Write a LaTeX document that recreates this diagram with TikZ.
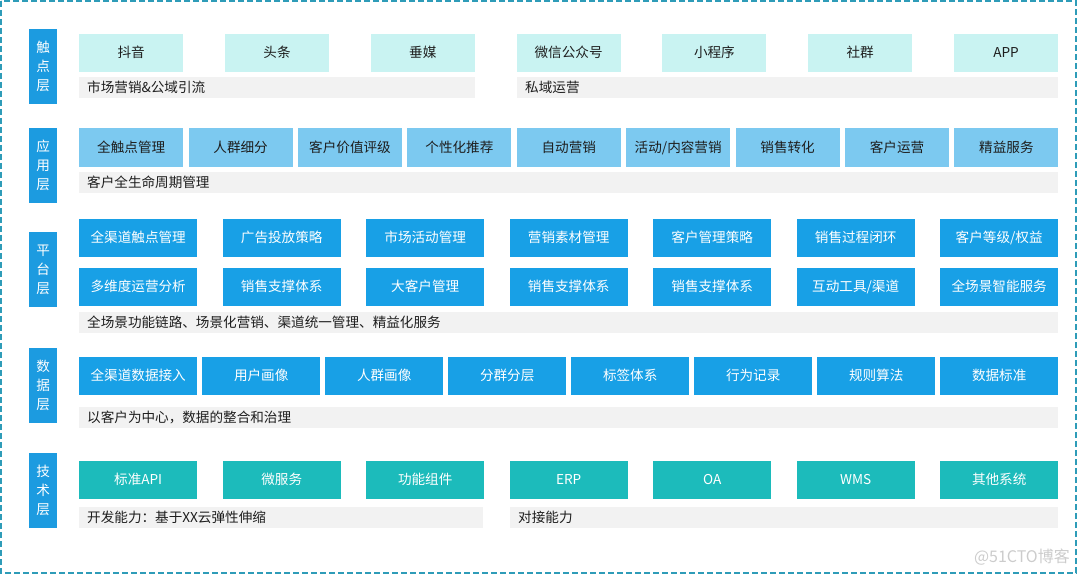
\documentclass[tikz,border=0pt]{standalone}
\usepackage{fontspec}
\setmainfont{Noto Sans CJK SC}
\usetikzlibrary{calc}

\definecolor{labelblue}{RGB}{28,155,224}
\definecolor{touchcyan}{RGB}{201,243,242}
\definecolor{applight}{RGB}{124,201,240}
\definecolor{platblue}{RGB}{24,160,230}
\definecolor{techteal}{RGB}{28,187,187}
\definecolor{bargray}{RGB}{242,242,242}
\definecolor{framecol}{RGB}{46,156,184}
\definecolor{inkdark}{RGB}{30,30,30}

\tikzset{
  txt/.style={font=\fontsize{13.6}{19}\selectfont},
  cell/.style={txt, anchor=north west, inner sep=0pt, text height=11.5pt, text depth=2pt},
  touchbox/.style={cell, fill=touchcyan, text=inkdark, minimum width=104pt, minimum height=38pt},
  appbox/.style={cell, fill=applight, text=inkdark, minimum width=104pt, minimum height=39pt},
  platbox/.style={cell, fill=platblue, text=white, minimum width=118pt, minimum height=38pt},
  techbox/.style={cell, fill=techteal, text=white, minimum width=118pt, minimum height=38pt},
  layerlabel/.style={txt, fill=labelblue, text=white, anchor=north west, inner sep=0pt,
    minimum width=28pt, minimum height=75pt, align=center},
  bar/.style={cell, fill=bargray, text=inkdark, inner xsep=8pt, minimum height=21pt, align=left}
}

\begin{document}
\begin{tikzpicture}[x=1pt, y=-1pt]
\useasboundingbox (0,0) rectangle (1080,575);
% Dashed frame round the whole picture
\draw [framecol, line width=1.4pt, dash pattern=on 6pt off 3pt] (1,1) rectangle (1076,573);

% Layer labels on the left
\node [layerlabel] (lTouch) at (29,29) {触\\点\\层};
\node [layerlabel] (lApp) at (29,128) {应\\用\\层};
\node [layerlabel] (lPlat) at (29,232) {平\\台\\层};
\node [layerlabel] (lData) at (29,348) {数\\据\\层};
\node [layerlabel] (lTech) at (29,453) {技\\术\\层};

% Touch points
\foreach \name [count=\i] in {抖音,头条,垂媒,微信公众号,小程序,社群,APP}
  \node [touchbox] (touch\i) at ({79+(\i-1)*145.8},34) {\name};
\node [bar, text width=380pt] (barPublic) at (79,77) {市场营销\&公域引流};
\node [bar, text width=525pt] (barPrivate) at (517,77) {私域运营};

% Applications
\foreach \name [count=\i] in {全触点管理,人群细分,客户价值评级,个性化推荐,自动营销,活动/内容营销,销售转化,客户运营,精益服务}
  \node [appbox] (app\i) at ({79+(\i-1)*109.4},128) {\name};
\node [bar, text width=963pt] (barApp) at (79,172) {客户全生命周期管理};

% Platform, two rows
\foreach \name [count=\i] in {全渠道触点管理,广告投放策略,市场活动管理,营销素材管理,客户管理策略,销售过程闭环,客户等级/权益}
  \node [platbox] (platA\i) at ({79+(\i-1)*143.5},219) {\name};
\foreach \name [count=\i] in {多维度运营分析,销售支撑体系,大客户管理,销售支撑体系,销售支撑体系,互动工具/渠道,全场景智能服务}
  \node [platbox] (platB\i) at ({79+(\i-1)*143.5},268) {\name};
\node [bar, text width=963pt] (barPlat) at (79,312) {全场景功能链路、场景化营销、渠道统一管理、精益化服务};

% Data
\foreach \name [count=\i] in {全渠道数据接入,用户画像,人群画像,分群分层,标签体系,行为记录,规则算法,数据标准}
  \node [platbox] (data\i) at ({79+(\i-1)*123},357) {\name};
\node [bar, text width=963pt] (barData) at (79,407) {以客户为中心，数据的整合和治理};

% Technology
\foreach \name [count=\i] in {标准API,微服务,功能组件,ERP,OA,WMS,其他系统}
  \node [techbox] (tech\i) at ({79+(\i-1)*143.5},461) {\name};
\node [bar, text width=388pt] (barDev) at (79,507) {开发能力：基于XX云弹性伸缩};
\node [bar, text width=532pt] (barLink) at (510,507) {对接能力};

% Watermark
\node [font=\fontsize{16}{18}\selectfont, text=black!20, anchor=east, inner sep=0pt] (mark) at (1070,557) {@51CTO博客};
\end{tikzpicture}
\end{document}
